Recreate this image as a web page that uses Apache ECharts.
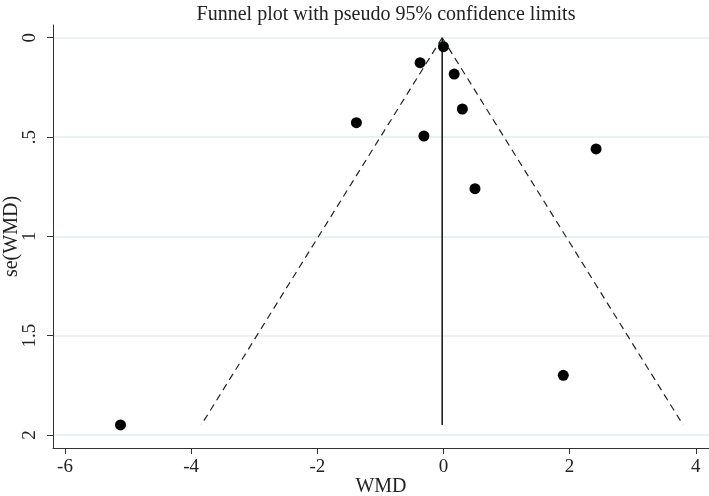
<!DOCTYPE html>
<html>
<head>
<meta charset="utf-8">
<title>Funnel plot</title>
<script src="https://cdn.jsdelivr.net/npm/echarts@6/dist/echarts.min.js"></script>
<style>
  html, body { margin: 0; padding: 0; background: #fff; }
  #chart { width: 709px; height: 496px; }
</style>
</head>
<body>
<div id="chart"></div>
<script>
// studies: WMD and its standard error
var wmd = [0.0, -0.37, 0.17, 0.30, -1.38, -0.31, 2.42, 0.50, 1.90, -5.12];
var seWmd = [0.045, 0.126, 0.183, 0.359, 0.428, 0.495, 0.56, 0.76, 1.70, 1.95];

// pseudo 95% limits and pooled estimate
var leftLimit = [[-0.02, 0], [-3.84, 1.95]];
var rightLimit = [[-0.02, 0], [3.80, 1.95]];
var pooledLine = [[-0.02, 0], [-0.02, 1.95]];

var xTicks = [-6, -4, -2, 0, 2, 4];
var yTicks = [0, 0.5, 1, 1.5, 2];

var serif = "Liberation Serif";
var axisColor = "#333";

var points = wmd.map(function (x, i) { return [x, seWmd[i]]; });

var chart = echarts.init(document.getElementById("chart"));
chart.setOption({
  animation: false,
  title: {
    text: "Funnel plot with pseudo 95% confidence limits",
    left: 381,
    textAlign: "center",
    top: 0,
    textStyle: { fontFamily: serif, fontSize: 20, fontWeight: "normal", color: "#222" }
  },
  grid: { left: 53, right: 0, top: 25, bottom: 48, outerBoundsMode: "none" },
  xAxis: {
    type: "value",
    min: -6.19,
    max: 4.21,
    name: "WMD",
    nameLocation: "middle",
    nameGap: 29,
    nameMoveOverlap: false,
    nameTextStyle: { fontFamily: serif, fontSize: 20, color: "#222" },
    axisLine: { show: true, onZero: false, lineStyle: { color: axisColor, width: 1 } },
    axisTick: { show: true, length: 6, customValues: xTicks, lineStyle: { color: axisColor } },
    axisLabel: { customValues: xTicks, fontFamily: serif, fontSize: 19, color: "#222", margin: 10 },
    splitLine: { show: false }
  },
  yAxis: {
    type: "value",
    inverse: true,
    min: -0.064,
    max: 2.066,
    name: "se(WMD)",
    nameLocation: "middle",
    nameGap: 31,
    nameMoveOverlap: false,
    nameTextStyle: { fontFamily: serif, fontSize: 20, color: "#222" },
    axisLine: { show: true, onZero: false, lineStyle: { color: axisColor, width: 1 } },
    axisTick: { show: true, length: 6, customValues: yTicks, lineStyle: { color: axisColor } },
    axisLabel: {
      customValues: yTicks,
      rotate: 90,
      fontFamily: serif,
      fontSize: 19,
      color: "#222",
      margin: 13,
      formatter: function (v) { return String(v).replace(/^0\./, "."); }
    },
    splitLine: { show: false }
  },
  series: [
    {
      type: "line",
      data: pooledLine,
      symbol: "none",
      lineStyle: { color: "#111", width: 1.5 },
      markLine: {
        silent: true,
        symbol: "none",
        label: { show: false },
        lineStyle: { color: "#e3ecec", width: 1.5, type: "solid" },
        data: yTicks.map(function (v) { return { yAxis: v }; }),
        z: 0
      }
    },
    {
      type: "line",
      data: leftLimit,
      symbol: "none",
      lineStyle: { color: "#222", width: 1.2, type: [7, 5] }
    },
    {
      type: "line",
      data: rightLimit,
      symbol: "none",
      lineStyle: { color: "#222", width: 1.2, type: [7, 5] }
    },
    {
      type: "scatter",
      data: points,
      symbolSize: 11,
      itemStyle: { color: "#000", opacity: 1 },
      z: 5
    }
  ]
});
</script>
</body>
</html>
